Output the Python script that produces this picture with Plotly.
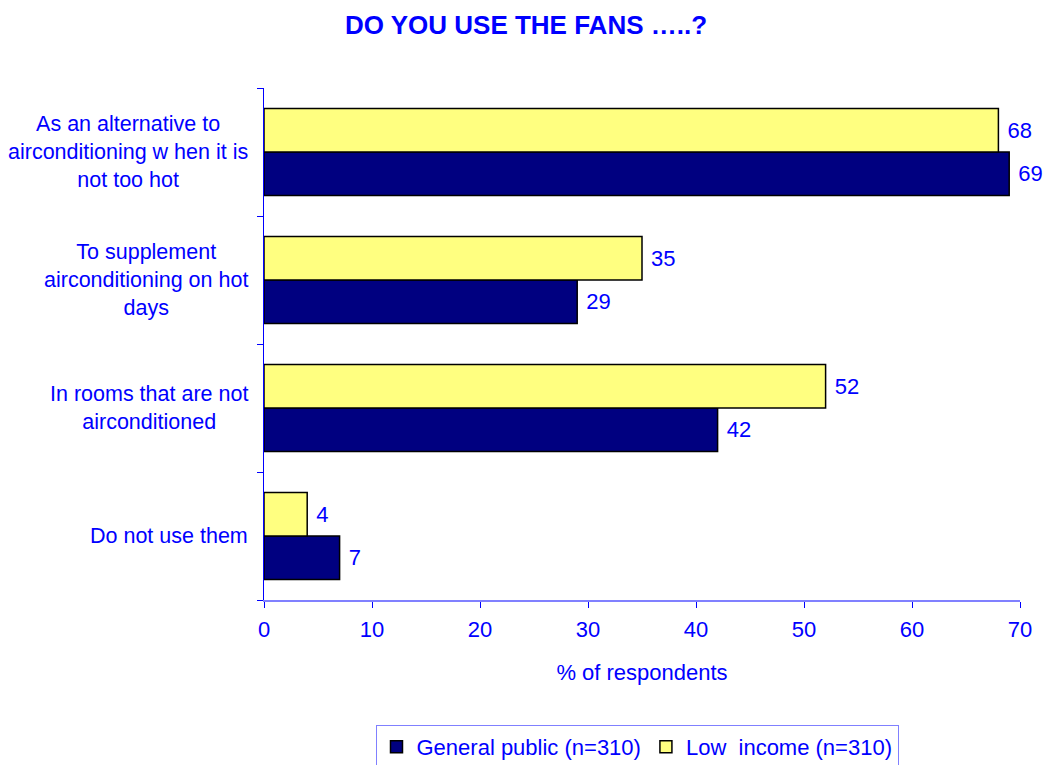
import plotly.graph_objects as go

categories = [
    "As an alternative to<br>airconditioning w hen it is<br>not too hot",
    "To supplement<br>airconditioning on hot<br>days",
    "In rooms that are not<br>airconditioned",
    "Do not use them",
]
general_public = [69, 29, 42, 7]
low_income = [68, 35, 52, 4]
series_names = ["General public (n=310)", "Low  income (n=310)"]
x_ticks = [0, 10, 20, 30, 40, 50, 60, 70]

FONT = "Arial, Liberation Sans, sans-serif"
BLUE = "#0000ff"
FS = 22

W, H = 1046, 765
L, T = 264, 88
PW, PH = 756, 512
R, B = W - L - PW, H - T - PH

# plot bottom-to-top so first category sits at the top
cats_rev = categories[::-1]
gp_rev = general_public[::-1]
li_rev = low_income[::-1]

fig = go.Figure()
fig.add_trace(go.Bar(
    y=cats_rev, x=gp_rev, orientation="h", name=series_names[0],
    marker=dict(color="#000080", line=dict(color="black", width=1.5)),
    text=["\u00a0" + str(v) for v in gp_rev], textposition="outside",
    textfont=dict(family=FONT, size=FS, color=BLUE),
    cliponaxis=False, constraintext="none",
))
fig.add_trace(go.Bar(
    y=cats_rev, x=li_rev, orientation="h", name=series_names[1],
    marker=dict(color="#ffff80", line=dict(color="black", width=1.5)),
    text=["\u00a0" + str(v) for v in li_rev], textposition="outside",
    textfont=dict(family=FONT, size=FS, color=BLUE),
    cliponaxis=False, constraintext="none",
))

for c in categories:
    fig.add_annotation(
        x=0, xref="paper", xshift=-14, xanchor="right",
        y=c, yref="y", yanchor="middle",
        text=c, showarrow=False, align="center",
        font=dict(family=FONT, size=21.5, color=BLUE),
    )

fig.update_layout(
    width=W, height=H,
    margin=dict(l=L, r=R, t=T, b=B, autoexpand=False),
    paper_bgcolor="white", plot_bgcolor="white",
    barmode="group", bargap=0.32, bargroupgap=0,
    title=dict(
        text="<b>DO YOU USE THE FANS …..?</b>",
        x=526 / W, xref="container", xanchor="center",
        y=1 - 25 / H, yref="container", yanchor="middle",
        font=dict(family=FONT, size=26, color=BLUE),
    ),
    font=dict(family=FONT, size=FS, color=BLUE),
    xaxis=dict(
        range=[0, 70], tickvals=x_ticks, ticktext=[str(t) for t in x_ticks],
        showgrid=False, zeroline=False,
        showline=True, linecolor="#8080ff", linewidth=2,
        ticks="outside", ticklen=6, tickcolor=BLUE, tickwidth=1,
        ticklabelstandoff=3,
        tickfont=dict(family=FONT, size=FS, color=BLUE),
        title=dict(text="% of respondents", standoff=23,
                   font=dict(family=FONT, size=FS, color=BLUE)),
    ),
    yaxis=dict(
        type="category", categoryorder="array", categoryarray=cats_rev,
        range=[-0.5, 3.5],
        showticklabels=False, showgrid=False, zeroline=False,
        showline=True, linecolor=BLUE, linewidth=1,
        ticks="outside", ticklen=6, tickcolor=BLUE, tickson="boundaries",
    ),
    legend=dict(
        orientation="h", x=(637 - L) / PW, xanchor="center",
        y=-(725 - T - PH) / PH, yanchor="top",
        bordercolor="#8080ff", borderwidth=1, bgcolor="white",
        font=dict(family=FONT, size=FS, color=BLUE),
        traceorder="normal", itemwidth=30, tracegroupgap=0,
    ),
    showlegend=True,
)

fig.write_html(
    "out.html",
    config={"displayModeBar": False},
    post_script="document.body.style.margin='0';document.body.style.overflow='hidden';",
)
